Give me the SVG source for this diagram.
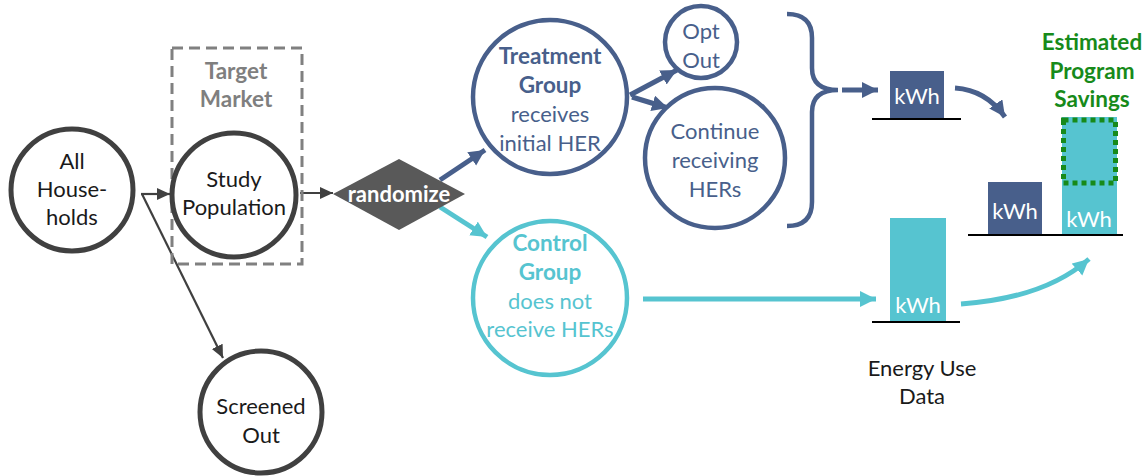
<svg xmlns="http://www.w3.org/2000/svg" width="1145" height="476" viewBox="0 0 1145 476">
<style>
.t{font-family:Lato,"Open Sans","Liberation Sans",sans-serif;font-size:22px;text-anchor:middle;dominant-baseline:central}
.b{font-weight:bold;font-size:22.5px}
.gc{fill:#fff;stroke:#404040;stroke-width:5}
.bc{fill:#fff;stroke:#485f8b;stroke-width:4.5}
.cc{fill:#fff;stroke:#56c4d0;stroke-width:4.5}
.blk{fill:#1a1a1a}
.blu{fill:#485f8b}
.cya{fill:#56c4d0}
.wht{fill:#fff}
.grn{fill:#178a1a}
.base{stroke:#000;stroke-width:2.2}
</style>
<defs>
<marker id="ag" markerUnits="userSpaceOnUse" markerWidth="14" markerHeight="14" refX="13" refY="6" orient="auto"><path d="M0,0 L13,6 L0,12 Z" fill="#404040"/></marker>
<marker id="ab" markerUnits="userSpaceOnUse" markerWidth="18" markerHeight="18" refX="16" refY="8" orient="auto"><path d="M0,0 L16,8 L0,16 Z" fill="#485f8b"/></marker>
<marker id="ac" markerUnits="userSpaceOnUse" markerWidth="18" markerHeight="18" refX="16" refY="8" orient="auto"><path d="M0,0 L16,8 L0,16 Z" fill="#56c4d0"/></marker>
</defs>

<g id="connectors" fill="none">
<line x1="141" y1="194" x2="170" y2="194" stroke="#404040" stroke-width="2.2" marker-end="url(#ag)"/>
<line x1="142" y1="194" x2="223" y2="358" stroke="#404040" stroke-width="2.2" marker-end="url(#ag)"/>
<line x1="300" y1="193" x2="333" y2="193" stroke="#404040" stroke-width="2.2" marker-end="url(#ag)"/>
<line x1="440" y1="180" x2="485" y2="150" stroke="#485f8b" stroke-width="5" marker-end="url(#ab)"/>
<line x1="440" y1="207" x2="487" y2="237" stroke="#56c4d0" stroke-width="5" marker-end="url(#ac)"/>
<line x1="630" y1="95" x2="677" y2="70" stroke="#485f8b" stroke-width="5" marker-end="url(#ab)"/>
<line x1="632" y1="97" x2="668" y2="108" stroke="#485f8b" stroke-width="5" marker-end="url(#ab)"/>
<path d="M787,14 Q812,14 812,38 L812,68 Q812,90 838,90 Q812,90 812,112 L812,202 Q812,226 787,226" stroke="#485f8b" stroke-width="4.5"/>
<line x1="842" y1="90" x2="878" y2="90" stroke="#485f8b" stroke-width="5" marker-end="url(#ab)"/>
<path d="M955,88 Q986,90 1005,117" stroke="#485f8b" stroke-width="5" marker-end="url(#ab)"/>
<line x1="643" y1="299" x2="876" y2="299" stroke="#56c4d0" stroke-width="5" marker-end="url(#ac)"/>
<path d="M961,304 Q1045,298 1089,259" stroke="#56c4d0" stroke-width="5" marker-end="url(#ac)"/>
</g>

<g id="target-market">
<rect x="172" y="48" width="130" height="216" fill="none" stroke="#808080" stroke-width="3" stroke-dasharray="11,6"/>
<text class="t b" x="236" y="70" fill="#7f7f7f">Target</text>
<text class="t b" x="236" y="98" fill="#7f7f7f">Market</text>
</g>

<g id="all-households">
<circle class="gc" cx="72" cy="190" r="61"/>
<text class="t blk" x="72" y="160">All</text>
<text class="t blk" x="72" y="188">House-</text>
<text class="t blk" x="72" y="216">holds</text>
</g>

<g id="study-population">
<circle class="gc" cx="234" cy="195" r="62"/>
<text class="t blk" x="234" y="178">Study</text>
<text class="t blk" x="234" y="206">Population</text>
</g>

<g id="screened-out">
<circle class="gc" cx="261" cy="412" r="61"/>
<text class="t blk" x="261" y="405">Screened</text>
<text class="t blk" x="261" y="434">Out</text>
</g>

<g id="randomize">
<path d="M333,194 L399,159 L465,194 L399,230 Z" fill="#595959"/>
<text class="t wht" x="399" y="193" font-size="19" font-weight="bold">randomize</text>
</g>

<g id="treatment-group">
<circle class="bc" cx="550" cy="97" r="77"/>
<text class="t b blu" x="550" y="55">Treatment</text>
<text class="t b blu" x="550" y="84">Group</text>
<text class="t blu" x="550" y="113">receives</text>
<text class="t blu" x="550" y="142">initial HER</text>
</g>

<g id="opt-out">
<circle class="bc" cx="701" cy="42" r="36"/>
<text class="t blu" x="701" y="30">Opt</text>
<text class="t blu" x="701" y="59">Out</text>
</g>

<g id="continue">
<circle class="bc" cx="715" cy="158" r="70"/>
<text class="t blu" x="715" y="130">Continue</text>
<text class="t blu" x="715" y="159">receiving</text>
<text class="t blu" x="715" y="188">HERs</text>
</g>

<g id="control-group">
<circle class="cc" cx="550" cy="298" r="77"/>
<text class="t b cya" x="550" y="242">Control</text>
<text class="t b cya" x="550" y="271">Group</text>
<text class="t cya" x="550" y="300">does not</text>
<text class="t cya" x="550" y="328">receive HERs</text>
</g>

<g id="treatment-kwh">
<rect x="890" y="71" width="54" height="48" fill="#485f8b"/>
<line class="base" x1="872" y1="119" x2="961" y2="119"/>
<text class="t wht" x="917" y="95">kWh</text>
</g>

<g id="control-kwh">
<rect x="890" y="218" width="56" height="104" fill="#56c4d0"/>
<line class="base" x1="872" y1="322" x2="960" y2="322"/>
<text class="t wht" x="918" y="304">kWh</text>
<text class="t blk" x="922" y="367">Energy Use</text>
<text class="t blk" x="922" y="395">Data</text>
</g>

<g id="savings">
<text class="t b grn" x="1092" y="41">Estimated</text>
<text class="t b grn" x="1092" y="70">Program</text>
<text class="t b grn" x="1092" y="98">Savings</text>
<rect x="988" y="182" width="54" height="53" fill="#485f8b"/>
<rect x="1062" y="117" width="55" height="118" fill="#56c4d0"/>
<rect x="1063.5" y="120" width="52" height="63" fill="none" stroke="#178a1a" stroke-width="5" stroke-dasharray="5,4"/>
<line class="base" x1="968" y1="235" x2="1123" y2="235"/>
<text class="t wht" x="1015" y="210">kWh</text>
<text class="t wht" x="1089" y="218">kWh</text>
</g>
</svg>
